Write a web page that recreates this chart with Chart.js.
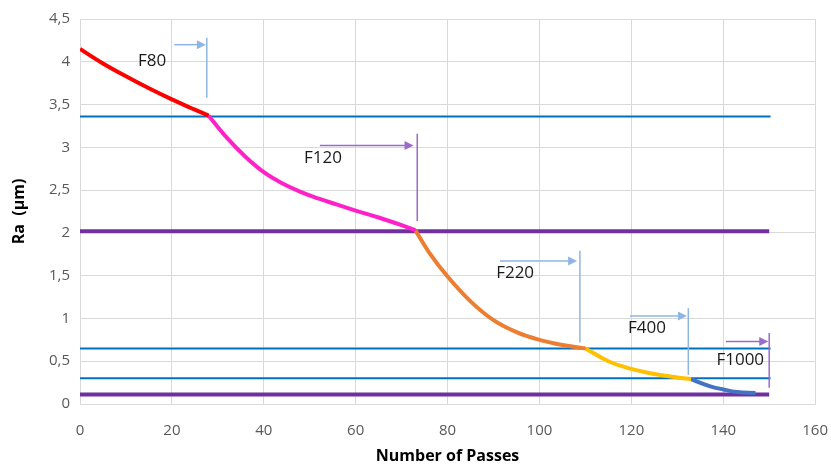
<!DOCTYPE html>
<html>
<head>
    <meta charset="UTF-8">
    <title>Ra vs Number of Passes</title>
    <script src="https://cdn.jsdelivr.net/npm/chart.js"></script>
    <style>
        body { margin: 0; background: #ffffff; }
        #wrap { width: 831px; height: 470px; position: relative; }
    </style>
</head>
<body>
    <div id="wrap"><canvas id="raChart"></canvas></div>
    <script>
        // Ra curves per grit stage (x = passes, y = Ra in µm)
        const f80X = [0, 5, 10, 15, 20, 25, 28];
        const f80Y = [4.15, 3.98, 3.83, 3.69, 3.56, 3.44, 3.37];
        const f120X = [28, 32, 36, 40, 44, 48, 52, 56, 60, 65, 70, 73];
        const f120Y = [3.37, 3.11, 2.89, 2.71, 2.58, 2.48, 2.40, 2.33, 2.26, 2.18, 2.09, 2.03];
        const f220X = [73, 76, 80, 85, 90, 95, 100, 105, 110];
        const f220Y = [2.03, 1.77, 1.49, 1.20, 0.98, 0.84, 0.75, 0.69, 0.65];
        const f400X = [110, 115, 120, 125, 130, 133];
        const f400Y = [0.65, 0.50, 0.41, 0.35, 0.31, 0.29];
        const f1000X = [133, 137, 140, 143, 147];
        const f1000Y = [0.29, 0.21, 0.17, 0.14, 0.13];

        // horizontal threshold lines
        const blueLevels = [3.36, 0.65, 0.30];
        const purpleLevels = [2.02, 0.11];
        const lineStart = 0;
        const lineEnd = 150;

        // stage labels, their arrows and end marks (data units)
        const stageLabels = ['F80', 'F120', 'F220', 'F400', 'F1000'];
        const arrowFromX = [20.5, 52.2, 91.4, 119.7, 140.6];
        const arrowToX = [27.4, 72.6, 108.2, 132.1, 149.8];
        const arrowY = [4.20, 3.02, 1.67, 1.03, 0.73];
        const markX = [27.6, 73.4, 108.8, 132.4, 150.0];
        const markTop = [4.28, 3.16, 1.79, 1.12, 0.83];
        const markBottom = [3.58, 2.14, 0.72, 0.34, 0.19];
        const textX = [15.7, 52.9, 94.7, 123.4, 143.7];
        const textY = [4.01, 2.87, 1.53, 0.89, 0.51];
        const arrowColors = ['#8fb6e3', '#9a6bcb', '#8fb6e3', '#8fb6e3', '#9a6bcb'];

        const xTicks = [0, 20, 40, 60, 80, 100, 120, 140, 160];

        function pts(xs, ys) {
            return xs.map((x, i) => ({ x: x, y: ys[i] }));
        }

        const datasets = [];
        const curves = [
            [f80X, f80Y, '#ff0000'],
            [f120X, f120Y, '#ff22c8'],
            [f220X, f220Y, '#ed7d31'],
            [f400X, f400Y, '#ffc000'],
            [f1000X, f1000Y, '#4472c4']
        ];
        curves.forEach(c => {
            datasets.push({
                data: pts(c[0], c[1]),
                borderColor: c[2],
                borderWidth: 4,
                pointRadius: 0,
                tension: 0.4,
                order: 0
            });
        });
        blueLevels.forEach(v => {
            datasets.push({
                data: [{ x: lineStart, y: v }, { x: lineEnd + 0.3, y: v }],
                borderColor: '#0070c0',
                borderWidth: 2,
                pointRadius: 0,
                order: 1
            });
        });
        purpleLevels.forEach(v => {
            datasets.push({
                data: [{ x: lineStart, y: v }, { x: lineEnd, y: v }],
                borderColor: '#7030a0',
                borderWidth: 4,
                pointRadius: 0,
                order: 1
            });
        });

        const stagePlugin = {
            id: 'stages',
            afterDatasetsDraw(chart) {
                const ctx = chart.ctx;
                const xs = chart.scales.x, ys = chart.scales.y;
                ctx.save();
                stageLabels.forEach((lab, i) => {
                    const col = arrowColors[i];
                    const x1 = xs.getPixelForValue(arrowFromX[i]);
                    const x2 = xs.getPixelForValue(arrowToX[i]);
                    const y = ys.getPixelForValue(arrowY[i]);
                    ctx.strokeStyle = col;
                    ctx.fillStyle = col;
                    ctx.lineWidth = 1.5;
                    ctx.beginPath();
                    ctx.moveTo(x1, y);
                    ctx.lineTo(x2 - 8, y);
                    ctx.stroke();
                    ctx.beginPath();
                    ctx.moveTo(x2, y);
                    ctx.lineTo(x2 - 9, y - 4.5);
                    ctx.lineTo(x2 - 9, y + 4.5);
                    ctx.closePath();
                    ctx.fill();
                    const mx = xs.getPixelForValue(markX[i]);
                    ctx.beginPath();
                    ctx.moveTo(mx, ys.getPixelForValue(markTop[i]));
                    ctx.lineTo(mx, ys.getPixelForValue(markBottom[i]));
                    ctx.stroke();
                    ctx.fillStyle = '#1a1a1a';
                    ctx.font = '17px "Open Sans", sans-serif';
                    ctx.textAlign = 'center';
                    ctx.textBaseline = 'middle';
                    ctx.fillText(lab, xs.getPixelForValue(textX[i]), ys.getPixelForValue(textY[i]));
                });
                ctx.restore();
            }
        };

        new Chart(document.getElementById('raChart'), {
            type: 'line',
            data: { datasets: datasets },
            plugins: [stagePlugin],
            options: {
                responsive: true,
                maintainAspectRatio: false,
                animation: false,
                layout: { padding: { top: 18, right: 0, left: 0, bottom: 0 } },
                plugins: { legend: { display: false }, tooltip: { enabled: false } },
                scales: {
                    x: {
                        type: 'linear',
                        min: 0,
                        max: 160,
                        afterBuildTicks: s => { s.ticks = xTicks.map(v => ({ value: v })); },
                        afterFit: s => { s.height = 66; },
                        grid: { color: '#d9d9d9', drawTicks: true, tickLength: 15, tickColor: 'rgba(0,0,0,0)' },
                        border: { color: '#d9d9d9' },
                        ticks: {
                            color: '#595959',
                            padding: 3,
                            font: { family: 'Open Sans', size: 15 }
                        },
                        title: {
                            display: true,
                            text: 'Number of Passes',
                            color: '#000000',
                            padding: { top: 10 },
                            font: { family: 'Open Sans', size: 16, weight: 'bold' }
                        }
                    },
                    y: {
                        min: 0,
                        max: 4.5,
                        ticks: {
                            stepSize: 0.5,
                            color: '#595959',
                            padding: 10,
                            font: { family: 'Open Sans', size: 15 },
                            callback: v => String(v).replace('.', ',')
                        },
                        afterFit: s => { s.width = 80; },
                        grid: { color: '#d9d9d9', drawTicks: false },
                        border: { color: '#d9d9d9' },
                        title: {
                            display: true,
                            text: 'Ra  (µm)',
                            color: '#000000',
                            padding: { top: 10 },
                            font: { family: 'Open Sans', size: 16, weight: 'bold' }
                        }
                    }
                }
            }
        });
    </script>
</body>
</html>
